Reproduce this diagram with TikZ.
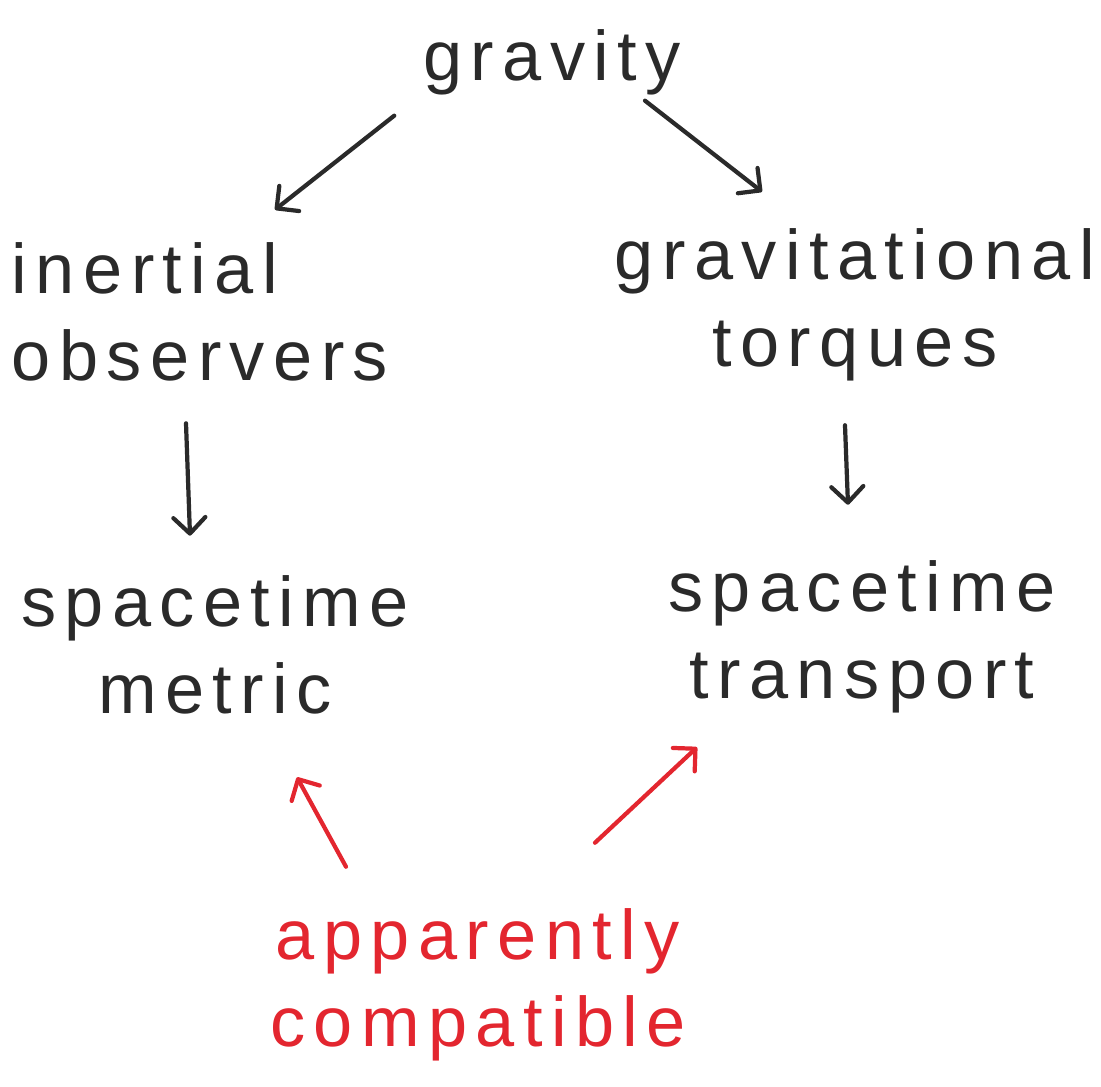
\documentclass[tikz,border=0pt]{standalone}
\usepackage{fontspec}
\setmainfont[LetterSpace=12]{Liberation Sans}
\usetikzlibrary{arrows.meta, positioning}
\definecolor{penred}{HTML}{E3262F}
\definecolor{penblack}{HTML}{2A2A2A}

\begin{document}
\begin{tikzpicture}[x=0.025cm, y=-0.025cm, every node/.style={font=\fontsize{50}{62}\selectfont, text=penblack, align=center, inner sep=4pt}, penarrow/.style={-{Straight Barb[length=4mm, width=8mm, round]}, line width=3pt, line cap=round, draw=penblack}]
\useasboundingbox (0,0) rectangle (1101,1087);
% Nodes
\node (gravity) at (552,62) {gravity};

\node[align=left] (inertial) at (200,312) {inertial\\observers};

\node (torques) at (855,305) {gravitational\\torques};

\node (metric) at (215,645) {spacetime\\metric};

\node (transport) at (862,637) {spacetime\\transport};

\node[text=penred] (compatible) at (478,985) {apparently\\compatible};

% Arrows
\draw[penarrow] ([shift={(-23,15)}]gravity.south west) -- ([shift={(75,-27)}]inertial.north);
\draw[penarrow] ([shift={(93,0)}]gravity.south) -- ([shift={(-93,-31)}]torques.north);
\draw[penarrow] ([shift={(-14,36)}]inertial.south) -- ([shift={(-25,-34)}]metric.north);
\draw[penarrow] ([shift={(-10,38)}]torques.south) -- ([shift={(-14,-50)}]transport.north);
\draw[penarrow, draw=penred] ([shift={(-132,-36)}]compatible.north) -- ([shift={(82,57)}]metric.south);
\draw[penarrow, draw=penred] ([shift={(117,-60)}]compatible.north) -- ([shift={(-165,28)}]transport.south);

\end{tikzpicture}
\end{document}
